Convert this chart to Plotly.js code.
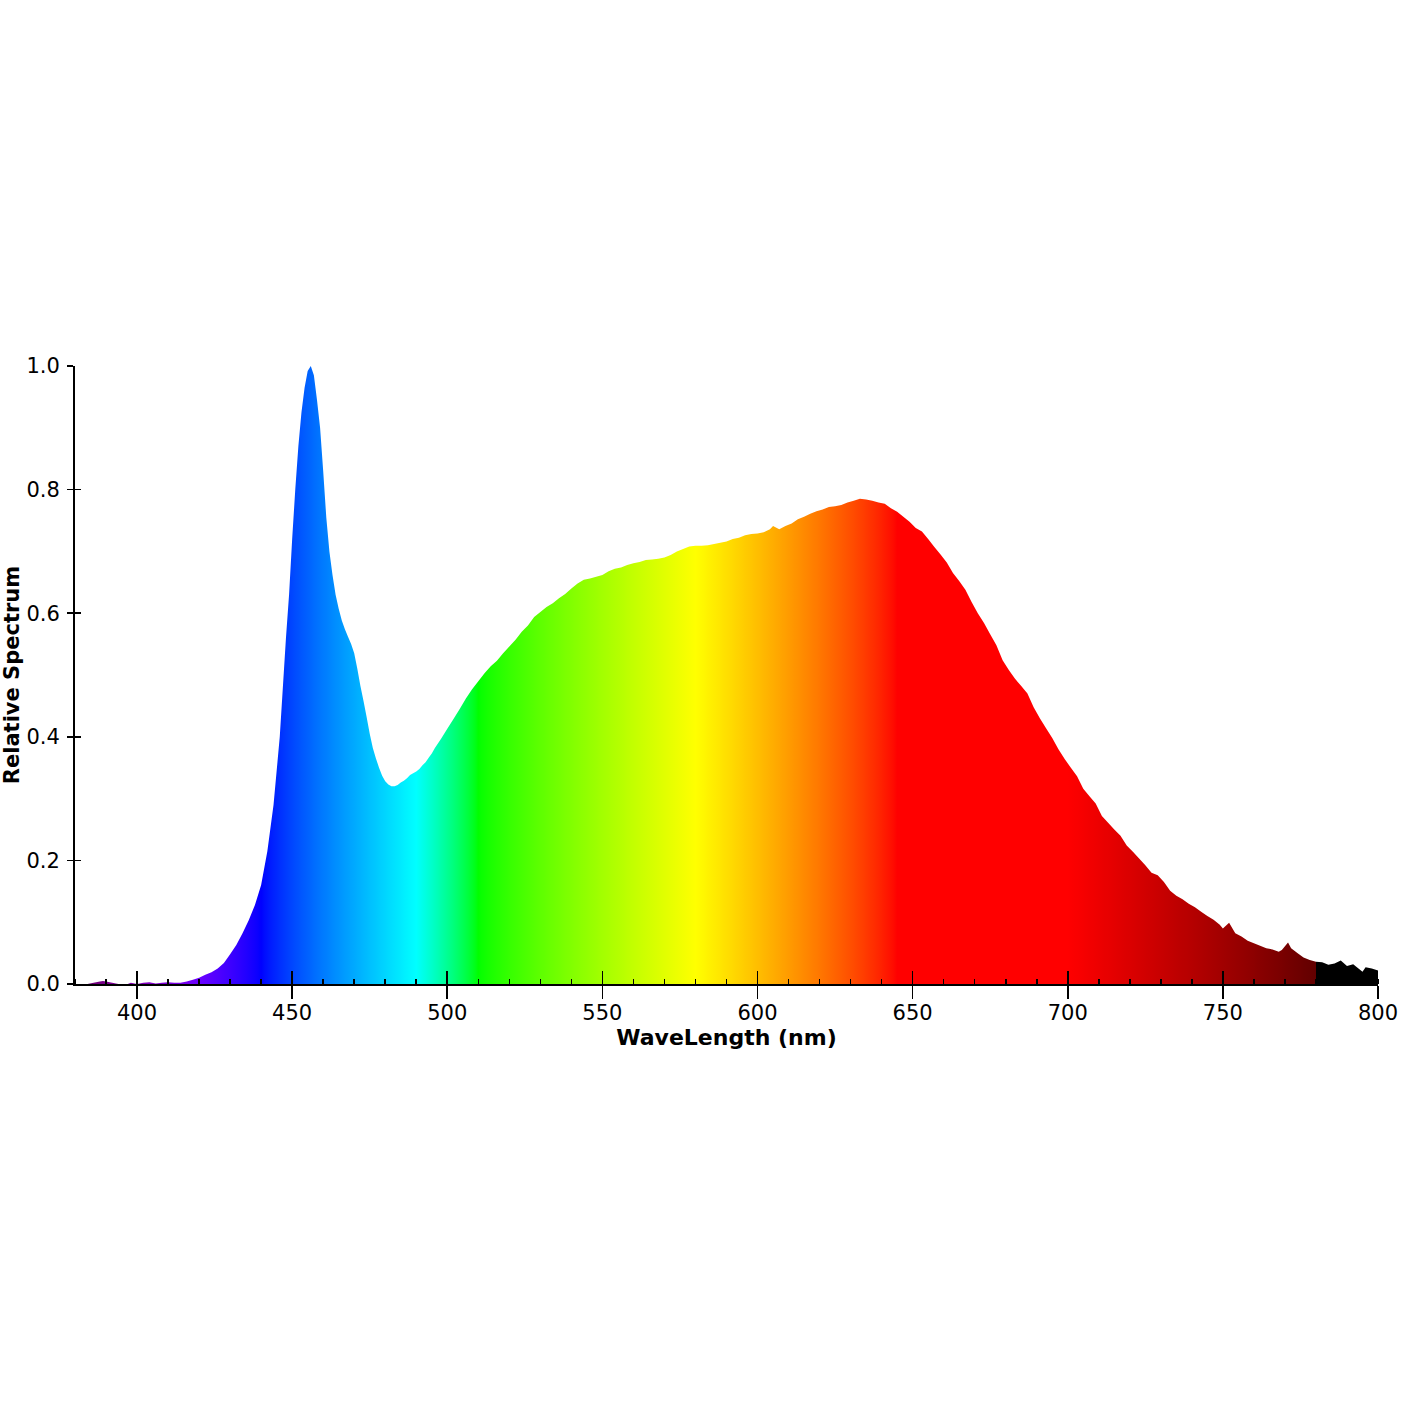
<!DOCTYPE html>
<html>
<head>
<meta charset="utf-8">
<script src="https://cdn.plot.ly/plotly-3.0.1.min.js"></script>
<style>html,body{margin:0;padding:0;background:#fff;}#chart{width:1420px;height:1420px;}</style>
</head>
<body>
<div id="chart"></div>
<script>
// Wavelength (nm) and relative spectral power
const wavelength = [380,384,386,388,389,390,392,394,397,398,400,402,404,406,408,410,412,414,416,418,
  420,422,424,426,428,430,432,434,436,438,440,442,444,446,448,449,450,451,452,453,454,455,456,457,458,459,
  460,461,462,463,464,465,466,467,468,469,470,471,472,473,474,475,476,477,478,479,480,481,482,483,484,485,
  486,487,488,489,490,491,492,493,494,495,496,498,500,502,504,506,508,510,512,514,516,518,520,522,524,526,
  528,530,532,534,536,538,540,542,544,546,548,550,552,554,556,558,560,562,564,566,568,570,572,574,576,578,
  580,582,584,586,588,590,592,594,596,598,600,602,604,605,607,609,611,613,615,617,619,621,623,625,627,629,
  631,633,635,637,639,641,643,645,647,649,651,653,655,657,659,661,663,665,667,669,671,673,675,677,679,681,
  683,685,687,689,691,693,695,697,699,701,703,705,707,709,711,713,715,717,719,721,723,725,727,729,731,733,
  735,737,739,741,743,745,747,749,750,752,754,756,758,760,762,764,766,768,769,771,772,774,776,778,780,782,
  784,786,788,790,792,793,795,796,798,800];
const relative = [0.000,0.000,0.002,0.004,0.005,0.004,0.002,0.000,0.000,0.002,0.000,0.002,0.003,0.001,0.002,0.003,0.002,0.002,0.004,0.007,
  0.010,0.015,0.019,0.025,0.034,0.048,0.063,0.082,0.103,0.128,0.160,0.215,0.290,0.400,0.560,0.630,0.720,0.800,0.870,0.925,0.965,0.992,1.000,0.985,0.945,0.900,
  0.830,0.755,0.700,0.662,0.630,0.607,0.588,0.574,0.562,0.550,0.535,0.510,0.482,0.458,0.432,0.405,0.382,0.365,0.350,0.337,0.328,0.323,0.320,0.320,0.322,0.326,
  0.329,0.333,0.338,0.341,0.344,0.348,0.354,0.359,0.366,0.373,0.382,0.397,0.413,0.429,0.445,0.462,0.477,0.490,0.503,0.514,0.523,0.535,0.546,0.557,0.570,0.580,
  0.594,0.602,0.610,0.616,0.624,0.631,0.640,0.648,0.654,0.656,0.659,0.662,0.668,0.672,0.674,0.678,0.681,0.683,0.686,0.687,0.688,0.690,0.694,0.700,0.704,0.708,
  0.709,0.709,0.710,0.712,0.714,0.716,0.720,0.722,0.726,0.728,0.729,0.731,0.736,0.741,0.736,0.741,0.745,0.752,0.756,0.761,0.765,0.768,0.772,0.773,0.775,0.779,
  0.782,0.785,0.784,0.782,0.779,0.777,0.770,0.764,0.756,0.748,0.738,0.732,0.720,0.707,0.695,0.682,0.665,0.652,0.638,0.618,0.600,0.584,0.566,0.548,0.524,0.508,
  0.494,0.482,0.470,0.448,0.430,0.414,0.398,0.380,0.364,0.350,0.336,0.316,0.304,0.292,0.272,0.261,0.250,0.240,0.224,0.214,0.203,0.192,0.180,0.176,0.165,0.151,
  0.143,0.137,0.130,0.124,0.117,0.110,0.104,0.096,0.090,0.099,0.082,0.077,0.070,0.066,0.062,0.058,0.056,0.052,0.055,0.067,0.058,0.050,0.043,0.039,0.036,0.035,
  0.031,0.033,0.038,0.029,0.032,0.028,0.020,0.027,0.025,0.022];
const xTickVals = [400,450,500,550,600,650,700,750,800];
const xTickText = ['400','450','500','550','600','650','700','750','800'];
const yTickVals = [0.0,0.2,0.4,0.6,0.8,1.0];
const yTickText = ['0.0','0.2','0.4','0.6','0.8','1.0'];

// wavelength -> visible colour (used only for the fill gradient styling)
function specColor(w) {
  let r = 0, g = 0, b = 0;
  if (w < 380 || w > 780) return 'rgb(0,0,0)';
  if (w < 440) { r = -(w - 440) / 60; b = 1; }
  else if (w < 490) { g = (w - 440) / 50; b = 1; }
  else if (w < 510) { g = 1; b = -(w - 510) / 20; }
  else if (w < 580) { r = (w - 510) / 70; g = 1; }
  else if (w < 645) { r = 1; g = -(w - 645) / 65; }
  else { r = 1; }
  let f = 1;
  if (w < 420) f = 0.3 + 0.7 * (w - 380) / 40;
  else if (w > 700) f = 0.3 + 0.7 * (780 - w) / 80;
  const c = v => v <= 0 ? 0 : Math.round(255 * Math.pow(v * f, 0.8));
  return 'rgb(' + c(r) + ',' + c(g) + ',' + c(b) + ')';
}
const wMin = 380, wMax = 800;
const scale = [];
for (let w = wMin; w <= 780; w++) scale.push([(w - wMin) / (wMax - wMin), specColor(w)]);
scale.push([(780.05 - wMin) / (wMax - wMin), 'rgb(0,0,0)']);
scale.push([1, 'rgb(0,0,0)']);

const traces = [
  {
    x: wavelength, y: relative, type: 'scatter', mode: 'none', fill: 'tozeroy',
    fillgradient: { type: 'horizontal', colorscale: scale, start: wMin, stop: wMax },
    hoverinfo: 'x+y', showlegend: false
  },
  { x: [], y: [], type: 'scatter', mode: 'none', xaxis: 'x2', yaxis: 'y2', showlegend: false, hoverinfo: 'skip' }
];

const tickFont = { family: 'DejaVu Sans', size: 21, color: '#000' };
const layout = {
  width: 1420, height: 1420, autosize: false,
  margin: { l: 75, r: 42, t: 366, b: 436 },
  paper_bgcolor: '#fff', plot_bgcolor: '#fff',
  showlegend: false,
  xaxis: {
    range: [380, 800], tickmode: 'array', tickvals: xTickVals, ticktext: xTickText,
    ticks: 'outside', ticklen: 13, tickwidth: 1.6, tickcolor: '#000',
    minor: { dtick: 10, tick0: 0, ticks: 'inside', ticklen: 5, tickwidth: 1.6, tickcolor: '#000' },
    showline: true, linecolor: '#000', linewidth: 2, showgrid: false, zeroline: false,
    tickfont: tickFont, ticklabelstandoff: -4,
    title: { text: 'WaveLength (nm)', font: { family: 'DejaVu Sans', size: 22, color: '#000', weight: 'bold' }, standoff: 4 }
  },
  xaxis2: {
    range: [380, 800], overlaying: 'x', anchor: 'y', side: 'bottom', tickmode: 'array', tickvals: xTickVals,
    ticks: 'inside', ticklen: 13, tickwidth: 1.6, tickcolor: '#000', showticklabels: false,
    showline: false, showgrid: false, zeroline: false
  },
  yaxis: {
    range: [0, 1.0], tickmode: 'array', tickvals: yTickVals, ticktext: yTickText,
    ticks: 'outside', ticklen: 6, tickwidth: 1.6, tickcolor: '#000',
    showline: true, linecolor: '#000', linewidth: 2, showgrid: false, zeroline: false,
    tickfont: tickFont, ticklabelstandoff: 3, automargin: true,
    title: { text: 'Relative Spectrum', font: { family: 'DejaVu Sans', size: 21, color: '#000', weight: 'bold' }, standoff: 1 }
  },
  yaxis2: {
    range: [0, 1.0], overlaying: 'y', anchor: 'x', side: 'left', tickmode: 'array', tickvals: yTickVals,
    ticks: 'inside', ticklen: 6, tickwidth: 1.6, tickcolor: '#000', showticklabels: false,
    showline: false, showgrid: false, zeroline: false
  }
};
Plotly.newPlot('chart', traces, layout, { displayModeBar: false, staticPlot: true });
</script>
</body>
</html>
